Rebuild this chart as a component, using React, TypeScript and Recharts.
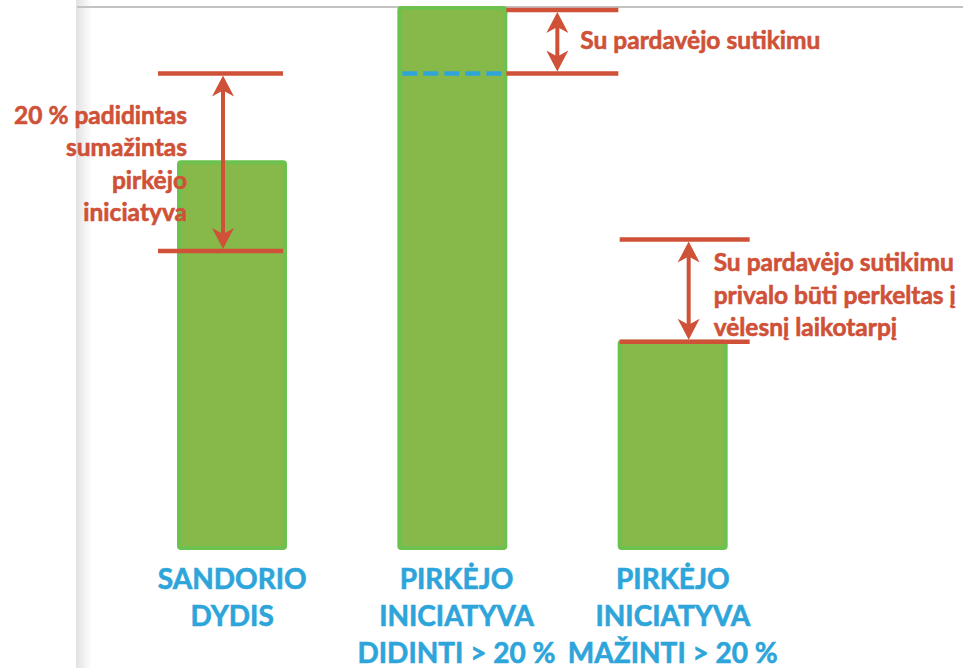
import { Bar, BarChart, XAxis, YAxis } from 'recharts';

const categories = ['SANDORIO DYDIS', 'PIRKĖJO INICIATYVA DIDINTI', 'PIRKĖJO INICIATYVA MAŽINTI'];
const categoryLines = [
	['SANDORIO', 'DYDIS'],
	['PIRKĖJO', 'INICIATYVA', 'DIDINTI > 20 %'],
	['PIRKĖJO', 'INICIATYVA', 'MAŽINTI > 20 %'],
];
const barValues = [100, 140, 53.5];
const rangeLow = [77, 123, 53.5];
const rangeHigh = [123, 139.5, 80];
const noteLines = [
	['20 % padidintas', 'sumažintas', 'pirkėjo', 'iniciatyva'],
	['Su pardavėjo sutikimu'],
	['Su pardavėjo sutikimu', 'privalo būti perkeltas į', 'vėlesnį laikotarpį'],
];

const data = categories.map((name, i) => ({
	name,
	value: barValues[i],
	range: [rangeLow[i], rangeHigh[i]],
}));

const RED = '#CF5137';
const BLUE = '#2EA5DA';
const FONT = 'Lato, "Open Sans", sans-serif';

// drawing offsets for each annotation, relative to the bar centre
const noteLayout = [
	{ from: -74, to: 51, arrow: -9, textX: -45, anchor: 'end', textY: 50, dashed: false },
	{ from: 54, to: 166, arrow: 105, textX: 128, anchor: 'start', textY: 39, dashed: true },
	{ from: -53, to: 77, arrow: 16, textX: 41, anchor: 'start', textY: 32, dashed: false },
];

function ArrowHead({ x, y, dir }: { x: number; y: number; dir: 1 | -1 }) {
	const pts = [
		[x, y],
		[x + 11, y + dir * 21],
		[x, y + dir * 15],
		[x - 11, y + dir * 21],
	]
		.map((p) => p.join(','))
		.join(' ');
	return <polygon points={pts} fill={RED} />;
}

function RangeMarker(props: any) {
	const { x, y, width, height, index } = props;
	const top = Math.min(y, y + height);
	const bottom = Math.max(y, y + height);
	const c = x + width / 2;
	const l = noteLayout[index];
	const ax = c + l.arrow;
	return (
		<g>
			{l.dashed && (
				<line
					x1={c - 50}
					x2={c + 51}
					y1={bottom}
					y2={bottom}
					stroke={BLUE}
					strokeWidth={4.5}
					strokeDasharray="15 6"
				/>
			)}
			<line x1={c + l.from} x2={c + l.to} y1={top} y2={top} stroke={RED} strokeWidth={4.5} />
			<line x1={c + l.from} x2={c + l.to} y1={bottom} y2={bottom} stroke={RED} strokeWidth={4.5} />
			<line x1={ax} x2={ax} y1={top + 10} y2={bottom - 10} stroke={RED} strokeWidth={4} />
			<ArrowHead x={ax} y={top + 2} dir={1} />
			<ArrowHead x={ax} y={bottom - 2} dir={-1} />
			{noteLines[index].map((t, i) => (
				<text
					key={i}
					x={c + l.textX}
					y={top + l.textY + i * 32.5}
					textAnchor={l.anchor as any}
					fill={RED}
					stroke={RED}
					strokeWidth={0.6}
					fontFamily={FONT}
					fontWeight={700}
					fontSize={24.5}
				>
					{t}
				</text>
			))}
		</g>
	);
}

function CategoryTick(props: any) {
	const { x, y, payload } = props;
	const idx = categories.indexOf(payload.value);
	const lines = categoryLines[idx] || [];
	return (
		<g>
			{lines.map((t, i) => (
				<text
					key={i}
					x={x + (idx === 1 ? 4 : 0)}
					y={y + 41 + i * 37}
					textAnchor="middle"
					fill={BLUE}
					stroke={BLUE}
					strokeWidth={0.6}
					fontFamily={FONT}
					fontWeight={700}
					fontSize={28}
				>
					{t}
				</text>
			))}
		</g>
	);
}

export default function App() {
	return (
		<div style={{ position: 'absolute', left: 0, top: 0, width: 963, height: 668, background: '#fff' }}>
			<svg width={963} height={668} style={{ position: 'absolute', left: 0, top: 0 }}>
				<defs>
					<linearGradient id="edge" x1="0" x2="1" y1="0" y2="0">
						<stop offset="0%" stopColor="#e2e2e2" />
						<stop offset="100%" stopColor="#ffffff" />
					</linearGradient>
				</defs>
				<rect x={76} y={0} width={16} height={668} fill="url(#edge)" />
				<line x1={77} x2={963} y1={7} y2={7} stroke="#C3C3C3" strokeWidth={2} />
			</svg>
			<div style={{ position: 'absolute', left: 0, top: 0 }}>
				<BarChart
					width={963}
					height={668}
					data={data}
					margin={{ top: 8, right: 180, bottom: 0, left: 122 }}
				>
					<YAxis hide domain={[0, 140]} />
					<XAxis
						dataKey="name"
						axisLine={false}
						tickLine={false}
						tickSize={0}
						tickMargin={0}
						height={120}
						interval={0}
						tick={<CategoryTick />}
					/>
					<XAxis xAxisId="note" dataKey="name" hide />
					<Bar
						dataKey="value"
						barSize={106}
						fill="#86B84A"
						stroke="#6DC14F"
						strokeWidth={4}
						radius={2}
						isAnimationActive={false}
					/>
					<Bar
						xAxisId="note"
						dataKey="range"
						barSize={106}
						shape={<RangeMarker />}
						isAnimationActive={false}
					/>
				</BarChart>
			</div>
		</div>
	);
}
